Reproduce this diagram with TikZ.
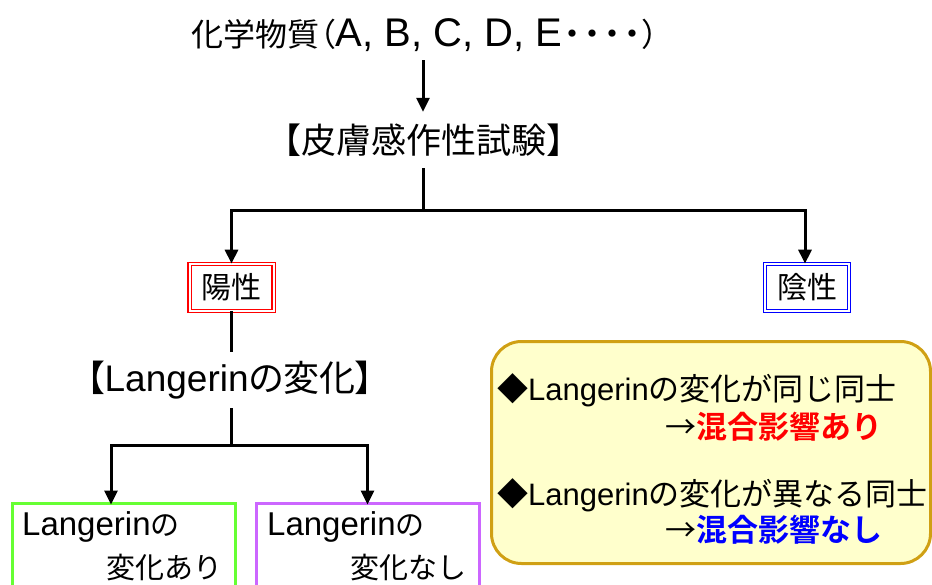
\documentclass[tikz,border=0pt]{standalone}
\usepackage{fontspec}
\setmainfont{Liberation Sans}
\newfontfamily\jp{Noto Sans CJK JP}
\newfontfamily\jpp[RawFeature=+palt]{Noto Sans CJK JP}
\newfontfamily\jpb{Noto Sans CJK JP Bold}
\usetikzlibrary{arrows.meta}
\newcommand\fsz[1]{\fontsize{#1}{#1}\selectfont}
\definecolor{yfill}{RGB}{255,255,204}
\definecolor{ydraw}{RGB}{208,160,20}
\definecolor{gbox}{RGB}{102,255,51}
\definecolor{pbox}{RGB}{204,102,255}
\begin{document}
\begin{tikzpicture}[x=1pt,y=-1pt,
  ln/.style={line width=3pt, line join=miter},
  arr/.style={ln, -{Triangle[width=13pt,length=14pt]}},
  txt/.style={inner sep=0pt, align=center},
  dbl/.style={draw=#1, double=white, line width=1.2pt, double distance=2pt,
    inner sep=0pt, minimum width=84pt, minimum height=46.5pt, font=\fsz{30}\jp},
  cbox/.style={draw=#1, line width=3pt, minimum width=223pt, minimum height=120pt, anchor=north, inner sep=0pt}]
\useasboundingbox (0,0) rectangle (932,584);
\clip (0,0) rectangle (932,584);

% texts
\node[txt, minimum height=50pt] (title) at (425,35)
  {{\fsz{32}\jp 化学物質\jpp （}{\fsz{40}A, B, C, D, E}{\fsz{34}\jp\kern-7pt ・\kern-14pt ・\kern-14pt ・\kern-14pt ・\kern-7pt}{\fsz{32}\jpp ）}};
\node[txt, minimum height=56pt, font=\fsz{35}\jp] (skin) at (424,140) {【皮膚感作性試験】};
\node[dbl=red] (pos) at (231.5,287.5) {陽性};
\node[dbl=blue] (neg) at (807,287.5) {陰性};
\node[txt, minimum height=56pt] (lang) at (230,380)
  {{\fsz{36}\jpp 【}{\fsz{37}Langerin}{\fsz{36}\jpp の変化】}};

% lower boxes
\node[cbox=gbox] (yes) at (124,501.5) {};
\node[cbox=pbox] (no) at (367.5,501.5) {};
\node[txt, anchor=base west] (yes1) at (22,535) {{\fsz{33}Langerin}{\fsz{29}\jp の}};
\node[txt, anchor=base east, font=\fsz{29}\jp] (yes2) at (223,578) {変化あり};
\node[txt, anchor=base west] (no1) at (267,535) {{\fsz{33}Langerin}{\fsz{29}\jp の}};
\node[txt, anchor=base east, font=\fsz{29}\jp] (no2) at (467,578) {変化なし};

% yellow note
\node[draw=ydraw, fill=yfill, line width=3pt, rounded corners=30pt, inner sep=0pt,
  minimum width=439pt, minimum height=222pt] (note) at (711,452.5) {};
\node[txt, anchor=base west, font=\fsz{31}] (n1) at (497,400) {{\jp ◆}Langerin{\jp の変化が同じ同士}};
\node[txt, anchor=base west, font=\fsz{31}\jp] (n2) at (665,438) {→{\jpb\color{red}混合影響あり}};
\node[txt, anchor=base west, font=\fsz{31}] (n3) at (497,505) {{\jp ◆}Langerin{\jp の変化が異なる同士}};
\node[txt, anchor=base west, font=\fsz{31}\jp] (n4) at (665,541) {→{\jpb\color{blue}混合影響なし}};

% connectors
\coordinate (j1) at (423,210);
\coordinate (j2) at (231,445);
\draw[arr] (title.south -| j1) -- (skin.north -| j1);
\draw[ln] (skin.south -| j1) -- (j1);
\draw[arr] (j1) -| (pos.north);
\draw[arr] (j1) -| ([xshift=-2pt]neg.north);
\draw[ln] (pos.south -| j2) -- (lang.north -| j2);
\draw[ln] (lang.south -| j2) -- (j2);
\draw[arr] (j2) -| ([xshift=-13pt,yshift=-3pt]yes.north);
\draw[arr] (j2) -| ([yshift=-3pt]no.north);
\end{tikzpicture}
\end{document}
